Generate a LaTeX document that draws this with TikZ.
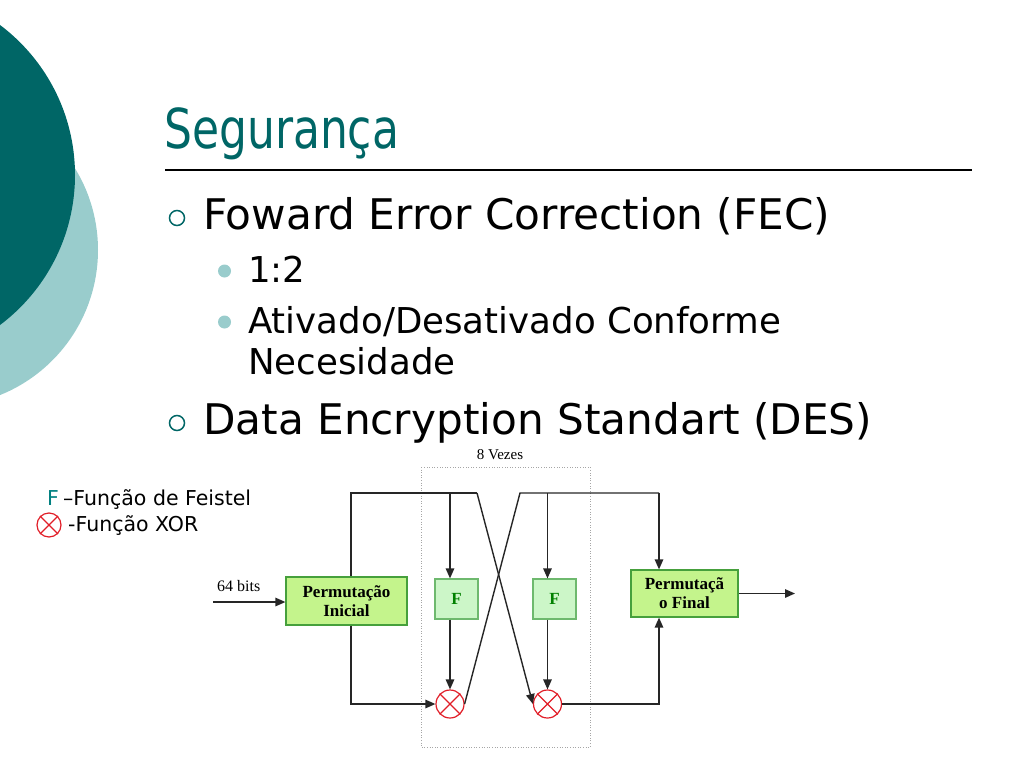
\documentclass[tikz,border=0pt]{standalone}
\usepackage{fontspec}
\setmainfont{DejaVu Sans}
\newfontfamily\titlefont[FakeStretch=0.8]{DejaVu Sans}
\newfontfamily\serifrm{Liberation Serif}
\usetikzlibrary{arrows.meta}
\definecolor{darkteal}{RGB}{0,102,102}
\definecolor{lightteal}{RGB}{153,204,204}
\definecolor{legteal}{RGB}{0,128,128}
\definecolor{permfill}{RGB}{196,244,140}
\definecolor{permborder}{RGB}{70,160,60}
\definecolor{ffill}{RGB}{204,246,200}
\definecolor{fborder}{RGB}{110,185,110}
\definecolor{fgreen}{RGB}{0,128,0}
\definecolor{xorred}{RGB}{225,30,40}
\tikzset{
  permbox/.style={draw=permborder, fill=permfill, line width=1.2pt, inner sep=0pt,
    align=center, font=\serifrm\bfseries\fontsize{17}{19}\selectfont},
  fbox/.style={draw=fborder, fill=ffill, line width=1.2pt, inner sep=0pt,
    minimum width=43pt, minimum height=40pt, text=fgreen,
    font=\serifrm\bfseries\fontsize{17}{19}\selectfont},
  xor/.style={circle, draw=xorred, line width=1.2pt, minimum size=28pt, inner sep=0pt},
  conn/.style={line width=1.4pt, draw=black!85},
  arr/.style={conn, -{Triangle[length=10pt,width=8.5pt]}},
  txt/.style={inner sep=0pt, anchor=base west},
}
\begin{document}
\begin{tikzpicture}[x=1pt,y=-1pt]
\useasboundingbox (0,0) rectangle (1024,768);
\begin{scope}
\clip (0,0) rectangle (1024,768);
\fill[lightteal] (-58.3,250) circle (156.3pt);
\fill[darkteal] (-112.5,175) circle (187.5pt);
\end{scope}

% title
\node[txt, text=darkteal, font=\titlefont\fontsize{55}{60}\selectfont] (title) at (164,148) {Segurança};
\draw[line width=1.4pt] (165,170) -- (972,170);

% bullets
\node[circle, draw=darkteal, line width=1.5pt, minimum size=15pt, inner sep=0pt] (b1) at (177,218) {};
\node[txt, font=\fontsize{42.2}{50}\selectfont] (t1) at (203,229) {Foward Error Correction (FEC)};
\node[circle, fill=lightteal, minimum size=13pt, inner sep=0pt] (b2) at (224.5,271) {};
\node[txt, font=\fontsize{35.6}{42}\selectfont] (t2) at (248,282) {1:2};
\node[circle, fill=lightteal, minimum size=13pt, inner sep=0pt] (b3) at (224.5,322) {};
\node[txt, font=\fontsize{35.6}{42}\selectfont] (t3) at (248,333) {Ativado/Desativado Conforme};
\node[txt, font=\fontsize{35.6}{42}\selectfont] (t4) at (248,374) {Necesidade};
\node[circle, draw=darkteal, line width=1.5pt, minimum size=15pt, inner sep=0pt] (b4) at (177,423) {};
\node[txt, font=\fontsize{42.2}{50}\selectfont] (t5) at (203,434) {Data Encryption Standart (DES)};

% legend
\node[txt, text=legteal, font=\fontsize{20.5}{24}\selectfont] (legF) at (47,505) {F};
\node[txt, font=\fontsize{20.5}{24}\selectfont] (legFt) at (63,505) {–Função de Feistel};
\node[xor, minimum size=24pt] (legX) at (49,525) {};
\draw[xorred, line width=1.2pt] (legX.45) -- (legX.225) (legX.135) -- (legX.315);
\node[txt, font=\fontsize{20.5}{24}\selectfont] (legXt) at (68,531) {-Função XOR};

% diagram
\draw[gray!70, dotted, line width=0.6pt] (421,467) rectangle (590,747);
\node[inner sep=0pt, font=\serifrm\fontsize{15}{18}\selectfont, anchor=base] (vezes) at (500,459) {8 Vezes};
\node[txt, font=\serifrm\fontsize{16}{18}\selectfont] (bits) at (217,591) {64 bits};

\node[permbox, minimum width=121pt, minimum height=48pt] (pi) at (346.5,601) {Permutação\\Inicial};
\node[fbox] (f1) at (456.5,599) {F};
\node[fbox] (f2) at (554.5,599) {F};
\node[xor] (x1) at (450,704) {};
\node[xor] (x2) at (547.5,704) {};
\draw[xorred, line width=1.2pt] (x1.45) -- (x1.225) (x1.135) -- (x1.315);
\draw[xorred, line width=1.2pt] (x2.45) -- (x2.225) (x2.135) -- (x2.315);
\node[permbox, minimum width=107pt, minimum height=47pt] (pf) at (684.5,593.5) {Permutaçã\\o Final};

\coordinate (in) at (213,602);
\coordinate (out) at (795,593.5);
\coordinate (tl) at (351,493);
\coordinate (tm) at (477,493);
\coordinate (tn) at (520,493);
\coordinate (tr) at (659,493);
\coordinate (bl) at (351,704);
\coordinate (br) at (659,704);

\draw[arr] (in) -- (pi.west |- in);
\draw[conn] (pi.north -| tl) -- (tl) -- (tm);
\draw[arr] (x1 |- tl) -- (f1.north -| x1);
\draw[arr] (f1.south -| x1) -- (x1.north);
\draw[arr] (tm) -- (x2.west);
\draw[conn] (x1.east) -- (tn) -- (tr);
\draw[arr] (tr) -- (pf.north -| tr);
\draw[arr] (x2 |- tn) -- (f2.north -| x2);
\draw[arr] (f2.south -| x2) -- (x2.north);
\draw[arr] (pi.south -| bl) -- (bl) -- (x1.west);
\draw[arr] (x2.east) -- (br) -- (pf.south -| br);
\draw[arr] (pf.east |- out) -- (out);
\end{tikzpicture}
\end{document}
